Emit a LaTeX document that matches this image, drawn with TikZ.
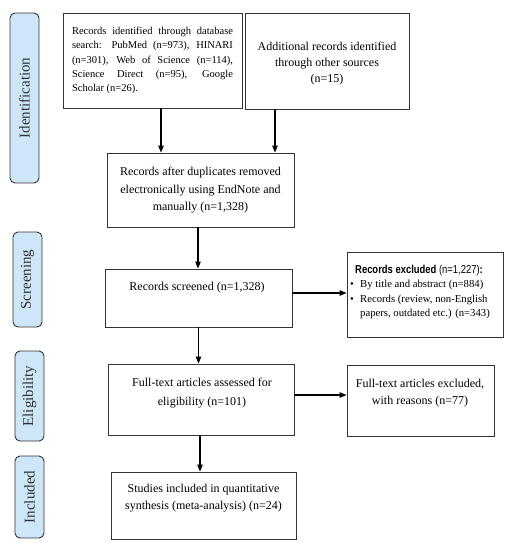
\documentclass[tikz,border=0pt]{standalone}
\usepackage{fontspec}
\setmainfont{Liberation Serif}
\newfontfamily\narrowsans[FakeStretch=0.82]{Liberation Sans}
\usetikzlibrary{arrows.meta}
\definecolor{sidefill}{HTML}{CDE6F8}
\definecolor{edge}{HTML}{333333}
\newcommand{\jline}[1]{\makebox[161pt][s]{#1}}
\tikzset{
  box/.style={draw=edge, line width=0.9pt, inner sep=0pt, fill=white},
  side/.style={draw=edge, line width=0.9pt, fill=sidefill, rounded corners=5pt, rotate=90, inner sep=0pt,
    font=\fontsize{15}{18}\selectfont, text=edge},
  txt/.style={inner sep=0pt, align=center, font=\fontsize{12}{17.5}\selectfont},
  arr/.style={line width=1.2pt, -{Triangle[length=7pt,width=5.5pt]}}
}
\begin{document}
\begin{tikzpicture}[x=1pt,y=-1pt]
\useasboundingbox (0,0) rectangle (513,550);
% side labels
\node[side, minimum width=170pt, minimum height=29pt] (sid) at (24.5,98) {Identification};
\node[side, minimum width=95pt, minimum height=29pt] (sscr) at (27.5,279.5) {Screening};
\node[side, minimum width=90pt, minimum height=29pt] (selig) at (29.5,396) {Eligibility};
\node[side, minimum width=82pt, minimum height=29pt] (sinc) at (29.5,497) {Included};
% boxes
\node[box, minimum width=179pt, minimum height=95pt] (b1) at (152.5,60.5) {};
\node[box, minimum width=164pt, minimum height=96pt] (b2) at (327,61) {};
\node[box, minimum width=187pt, minimum height=74pt] (b3) at (200.5,190) {};
\node[box, minimum width=187pt, minimum height=58pt] (b4) at (198.5,298) {};
\node[box, minimum width=156pt, minimum height=85pt] (b5) at (425,294.5) {};
\node[box, minimum width=186pt, minimum height=71pt] (b6) at (201,399.5) {};
\node[box, minimum width=147pt, minimum height=71pt] (b7) at (420.5,400.5) {};
\node[box, minimum width=185pt, minimum height=67pt] (b8) at (203.5,505.5) {};
% texts
\node[txt, align=left, font=\fontsize{10.5}{14.4}\selectfont] (t1) at (152.5,60.5)
  {\jline{Records identified through database}\\
   \jline{search: PubMed (n=973), HINARI}\\
   \jline{(n=301), Web of Science (n=114),}\\
   \jline{Science Direct (n=95), Google}\\
   \makebox[161pt][l]{Scholar (n=26).}};
\node[txt, font=\fontsize{12}{16}\selectfont] (t2) at (327,64) {Additional records identified\\through other sources\\(n=15)};
\node[txt] (t3) at (200.5,190.5) {Records after duplicates removed\\electronically using EndNote and\\manually (n=1,328)};
\node[txt] (t4) at (197,288) {Records screened (n=1,328)};
\node[txt, align=left, anchor=west, font=\fontsize{10.7}{14.6}\selectfont] (t5) at (350,292)
  {\hspace*{5pt}{\narrowsans\fontsize{11.5}{14.6}\selectfont\textbf{Records excluded} (n=1,227)\textbf{:}}\\
   \makebox[10pt][l]{\textbullet}By title and abstract (n=884)\\
   \makebox[10pt][l]{\textbullet}Records (review, non-English\\
   \hspace*{10pt}papers, outdated etc.) (n=343)};
\node[txt, font=\fontsize{12}{19}\selectfont] (t6) at (202,393.5) {Full-text articles assessed for\\eligibility (n=101)};
\node[txt, font=\fontsize{12}{17}\selectfont] (t7) at (420,393.5) {Full-text articles excluded,\\with reasons (n=77)};
\node[txt, font=\fontsize{12}{17}\selectfont] (t8) at (203.5,498.5) {Studies included in quantitative\\synthesis (meta-analysis) (n=24)};
% arrows
\draw[arr] ([xshift=8.5pt]b1.south) -- ([xshift=8.5pt]b1.south |- b3.north);
\draw[arr] ([xshift=-52pt]b2.south) -- ([xshift=-52pt]b2.south |- b3.north);
\draw[arr] ([xshift=-2.5pt]b3.south) -- ([xshift=-2.5pt]b3.south |- b4.north);
\draw[arr] ([yshift=5pt]b4.east) -- ([yshift=5pt]b4.east -| b5.west);
\draw[arr] (b4.south) -- (b4.south |- b6.north);
\draw[arr] ([yshift=4.5pt]b6.east) -- ([yshift=4.5pt]b6.east -| b7.west);
\draw[arr] ([xshift=-1pt]b6.south) -- ([xshift=-1pt]b6.south |- b8.north);
\end{tikzpicture}
\end{document}
